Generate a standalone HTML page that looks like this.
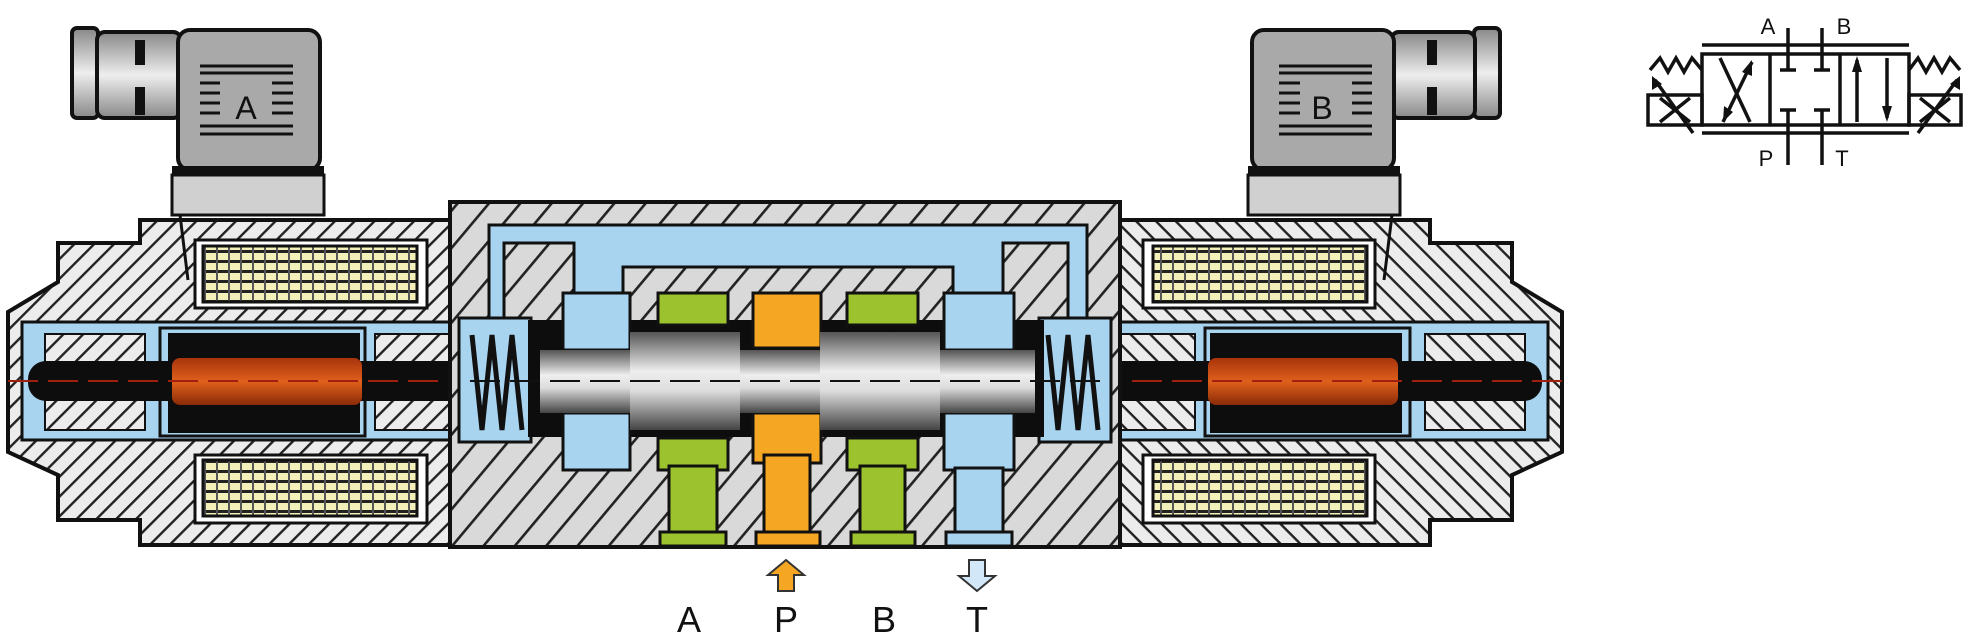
<!DOCTYPE html>
<html><head><meta charset="utf-8"><style>
html,body{margin:0;padding:0;background:#fff;}
svg{display:block}
text{font-family:"Liberation Sans",sans-serif;}
</style></head><body>
<svg width="1972" height="639" viewBox="0 0 1972 639" xmlns="http://www.w3.org/2000/svg">
<defs>
<pattern id="h" width="14" height="14" patternUnits="userSpaceOnUse" patternTransform="rotate(45)">
<rect width="14" height="14" fill="#ececec"/><rect x="0" y="0" width="2.4" height="14" fill="#222"/></pattern>
<pattern id="hc" width="24" height="24" patternUnits="userSpaceOnUse" patternTransform="rotate(40)">
<rect width="24" height="24" fill="#d9d9d9"/><rect x="0" y="0" width="2.6" height="24" fill="#222"/></pattern>
<pattern id="coil" width="12" height="10" patternUnits="userSpaceOnUse">
<rect width="12" height="10" fill="#f3efb8"/><rect y="0" width="12" height="3" fill="#222"/><rect x="0" width="2" height="10" fill="#555"/></pattern>
<linearGradient id="sil" x1="0" y1="0" x2="0" y2="1"><stop offset="0" stop-color="#555"/><stop offset="0.4" stop-color="#eee"/><stop offset="0.6" stop-color="#ddd"/><stop offset="1" stop-color="#444"/></linearGradient>
<linearGradient id="red" x1="0" y1="0" x2="0" y2="1"><stop offset="0" stop-color="#a8340c"/><stop offset="0.5" stop-color="#e0601c"/><stop offset="1" stop-color="#8a2a08"/></linearGradient>
<linearGradient id="cyl" x1="0" y1="0" x2="0" y2="1"><stop offset="0" stop-color="#888"/><stop offset="0.5" stop-color="#eee"/><stop offset="1" stop-color="#888"/></linearGradient>
<g id="sol">
<polygon points="8,312 58,282 58,243 140,243 140,220 452,220 452,545 140,545 140,520 58,520 58,475 8,452" fill="url(#h)" stroke="#111" stroke-width="4"/>
<rect x="195" y="240" width="232" height="68" fill="#fff" stroke="#111" stroke-width="3"/>
<rect x="203" y="246" width="214" height="56" fill="url(#coil)" stroke="#111" stroke-width="3"/>
<rect x="195" y="455" width="232" height="68" fill="#fff" stroke="#111" stroke-width="3"/>
<rect x="203" y="460" width="214" height="56" fill="url(#coil)" stroke="#111" stroke-width="3"/>
<rect x="22" y="322" width="450" height="118" fill="#a8d4f0" stroke="#111" stroke-width="3"/>
<rect x="45" y="334" width="100" height="96" fill="url(#h)" stroke="#111" stroke-width="2"/>
<rect x="375" y="334" width="75" height="96" fill="url(#h)" stroke="#111" stroke-width="2"/>
<rect x="160" y="328" width="205" height="108" fill="#a8d4f0" stroke="#111" stroke-width="3"/>
<rect x="168" y="333" width="192" height="100" fill="#0d0d0d"/>
<rect x="28" y="361" width="440" height="40" rx="18" fill="#0d0d0d"/>
<rect x="172" y="358" width="190" height="47" rx="8" fill="url(#red)"/>
<line x1="8" y1="381" x2="470" y2="381" stroke="#a02010" stroke-width="2" stroke-dasharray="30 10"/>
</g>
<g id="con">
<rect x="72" y="28" width="26" height="90" rx="5" fill="url(#cyl)" stroke="#111" stroke-width="4"/>
<rect x="97" y="32" width="84" height="86" rx="8" fill="url(#cyl)" stroke="#111" stroke-width="4"/>
<rect x="135" y="40" width="10" height="25" fill="#111"/><rect x="135" y="87" width="10" height="28" fill="#111"/>
<rect x="178" y="30" width="142" height="140" rx="12" fill="#a9a9a9" stroke="#111" stroke-width="4"/>
<rect x="172" y="166" width="152" height="9" fill="#111"/>
<rect x="172" y="175" width="152" height="40" fill="#d0d0d0" stroke="#111" stroke-width="3"/>
<g stroke="#111" stroke-width="3"><line x1="200" y1="66" x2="293" y2="66"/><line x1="200" y1="73" x2="293" y2="73"/><line x1="200" y1="126" x2="293" y2="126"/><line x1="200" y1="134" x2="293" y2="134"/>
<line x1="200" y1="83" x2="220" y2="83"/><line x1="200" y1="93" x2="220" y2="93"/><line x1="200" y1="103" x2="220" y2="103"/><line x1="200" y1="113" x2="220" y2="113"/>
<line x1="272" y1="83" x2="293" y2="83"/><line x1="272" y1="93" x2="293" y2="93"/><line x1="272" y1="103" x2="293" y2="103"/><line x1="272" y1="113" x2="293" y2="113"/></g>
</g>
</defs>
<use href="#sol"/>
<use href="#sol" transform="translate(1570,0) scale(-1,1)"/>
<use href="#con"/>
<use href="#con" transform="translate(1572,0) scale(-1,1)"/>
<text x="246" y="119" font-size="32" text-anchor="middle" fill="#111">A</text>
<text x="1322" y="119" font-size="32" text-anchor="middle" fill="#111">B</text>
<line x1="180" y1="215" x2="188" y2="280" stroke="#111" stroke-width="3"/>
<line x1="1392" y1="215" x2="1384" y2="280" stroke="#111" stroke-width="3"/>
<!-- central body -->
<rect x="450" y="202" width="670" height="345" fill="url(#hc)" stroke="#111" stroke-width="4"/>
<path d="M489,225 H1087 V320 H1068 V243 H1003 V293 H953 V267 H623 V293 H574 V243 H504 V320 H489 Z" fill="#a8d4f0" stroke="#111" stroke-width="3"/>
<rect x="459" y="318" width="72" height="124" fill="#a8d4f0" stroke="#111" stroke-width="3"/>
<rect x="1039" y="318" width="72" height="124" fill="#a8d4f0" stroke="#111" stroke-width="3"/>
<rect x="528" y="320" width="516" height="117" fill="#0d0d0d"/>
<rect x="563" y="293" width="67" height="57" fill="#a8d4f0" stroke="#111" stroke-width="3"/>
<rect x="563" y="413" width="67" height="57" fill="#a8d4f0" stroke="#111" stroke-width="3"/>
<rect x="944" y="293" width="70" height="57" fill="#a8d4f0" stroke="#111" stroke-width="3"/>
<rect x="944" y="413" width="70" height="57" fill="#a8d4f0" stroke="#111" stroke-width="3"/>
<rect x="955" y="468" width="48" height="70" fill="#a8d4f0" stroke="#111" stroke-width="3"/>
<rect x="658" y="293" width="70" height="32" fill="#9cc22e" stroke="#111" stroke-width="3"/>
<rect x="658" y="438" width="70" height="32" fill="#9cc22e" stroke="#111" stroke-width="3"/>
<rect x="669" y="466" width="48" height="72" fill="#9cc22e" stroke="#111" stroke-width="3"/>
<rect x="847" y="293" width="71" height="32" fill="#9cc22e" stroke="#111" stroke-width="3"/>
<rect x="847" y="438" width="71" height="32" fill="#9cc22e" stroke="#111" stroke-width="3"/>
<rect x="860" y="466" width="45" height="72" fill="#9cc22e" stroke="#111" stroke-width="3"/>
<rect x="753" y="293" width="68" height="55" fill="#f5a623" stroke="#111" stroke-width="3"/>
<rect x="753" y="413" width="68" height="50" fill="#f5a623" stroke="#111" stroke-width="3"/>
<rect x="764" y="455" width="46" height="83" fill="#f5a623" stroke="#111" stroke-width="3"/>
<g stroke="#111" stroke-width="3">
<rect x="660" y="532" width="66" height="14" fill="#9cc22e"/><rect x="756" y="532" width="64" height="14" fill="#f5a623"/>
<rect x="851" y="532" width="64" height="14" fill="#9cc22e"/><rect x="946" y="532" width="66" height="14" fill="#a8d4f0"/></g>
<rect x="540" y="350" width="495" height="63" fill="url(#sil)"/>
<rect x="630" y="332" width="110" height="98" fill="url(#sil)"/>
<rect x="820" y="332" width="120" height="98" fill="url(#sil)"/>
<line x1="470" y1="381" x2="1100" y2="381" stroke="#111" stroke-width="2" stroke-dasharray="30 10"/>
<!-- springs -->
<path d="M472,335 L482,430 L492,335 L502,430 L512,335 L522,430" fill="none" stroke="#111" stroke-width="5"/>
<path d="M1048,335 L1058,430 L1068,335 L1078,430 L1088,335 L1098,430" fill="none" stroke="#111" stroke-width="5"/>
<!-- arrows -->
<path d="M786,560 L804,575 L794,575 L794,591 L778,591 L778,575 L768,575 Z" fill="#f5a623" stroke="#333" stroke-width="2"/>
<path d="M977,591 L995,576 L985,576 L985,560 L969,560 L969,576 L959,576 Z" fill="#d2e8f8" stroke="#333" stroke-width="2"/>
<g font-size="36" fill="#111" text-anchor="middle">
<text x="689" y="632">A</text><text x="786" y="632">P</text><text x="884" y="632">B</text><text x="977" y="632">T</text></g>
<!-- symbol -->
<g stroke="#111" stroke-width="3.5" fill="none">
<rect x="1702" y="54" width="207" height="71"/>
<line x1="1770" y1="54" x2="1770" y2="125"/><line x1="1840" y1="54" x2="1840" y2="125"/>
<line x1="1702" y1="45" x2="1909" y2="45"/><line x1="1702" y1="133" x2="1909" y2="133"/>
<rect x="1648" y="95" width="54" height="30"/><rect x="1909" y="95" width="52" height="30"/>
<line x1="1788" y1="28" x2="1788" y2="70"/><line x1="1780" y1="70" x2="1796" y2="70"/>
<line x1="1822" y1="28" x2="1822" y2="70"/><line x1="1814" y1="70" x2="1830" y2="70"/>
<line x1="1788" y1="110" x2="1788" y2="165"/><line x1="1780" y1="110" x2="1796" y2="110"/>
<line x1="1822" y1="110" x2="1822" y2="165"/><line x1="1814" y1="110" x2="1830" y2="110"/>
<line x1="1720" y1="58" x2="1750" y2="122"/><line x1="1752" y1="62" x2="1723" y2="122"/>
<line x1="1857" y1="60" x2="1857" y2="122"/><line x1="1887" y1="58" x2="1887" y2="118"/>
<line x1="1660" y1="98" x2="1690" y2="122"/><line x1="1690" y1="98" x2="1660" y2="122"/>
<line x1="1920" y1="98" x2="1950" y2="122"/><line x1="1950" y1="98" x2="1920" y2="122"/>
<polyline points="1650,70 1660,58 1668,72 1676,58 1684,72 1692,58 1702,70"/>
<polyline points="1909,70 1918,58 1926,72 1934,58 1942,72 1950,58 1960,70"/>
<line x1="1655" y1="80" x2="1693" y2="133"/><line x1="1957" y1="80" x2="1918" y2="133"/>
</g>
<g fill="#111"><polygon points="1857,56 1852,72 1862,72"/><polygon points="1887,122 1882,106 1892,106"/>
<polygon points="1752,60 1742,72 1752,76"/><polygon points="1723,122 1724,106 1733,112"/>
<polygon points="1652,76 1652,90 1662,84"/><polygon points="1960,76 1960,90 1950,84"/></g>
<g font-size="22" fill="#111" text-anchor="middle">
<text x="1768" y="34">A</text><text x="1844" y="34">B</text><text x="1766" y="166">P</text><text x="1842" y="166">T</text></g>
</svg>
</body></html>
